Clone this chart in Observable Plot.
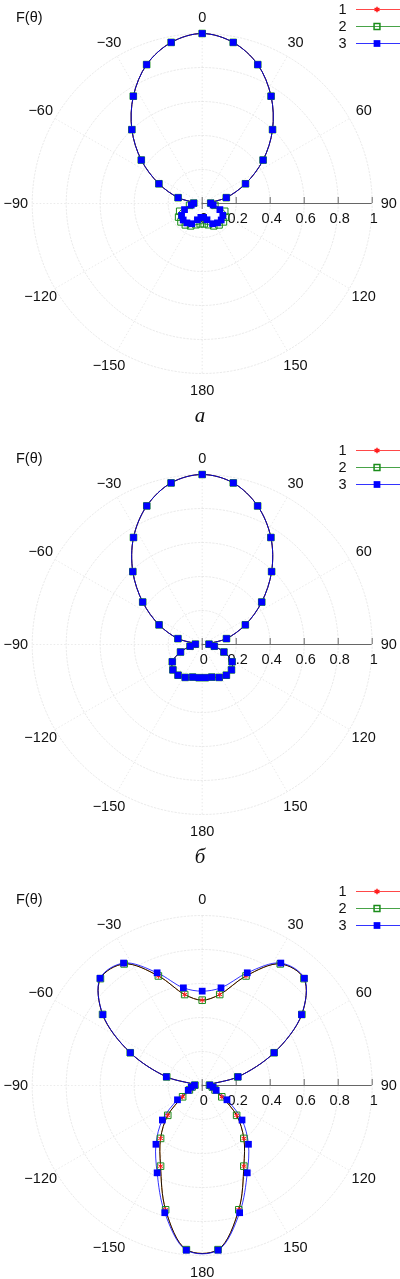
<!DOCTYPE html>
<html>
<head>
<meta charset="utf-8">
<script src="https://cdn.jsdelivr.net/npm/d3@7"></script>
<script src="https://cdn.jsdelivr.net/npm/@observablehq/plot@0.6"></script>
<style>
  html, body { margin: 0; padding: 0; background: #fff; overflow: hidden; }
  body { width: 400px; font-family: "Liberation Sans", Arial, sans-serif; color: #111; }
  .block { position: relative; width: 400px; height: 441px; }
  .ftheta { position: absolute; left: 16px; top: 8px; font-size: 14.5px; line-height: 18px; }
  .legend { position: absolute; left: 332px; top: 0px; }
  .cap { position: absolute; left: 0; top: 404px; width: 400px; text-align: center;
         font-family: "Liberation Serif", "DejaVu Serif", serif; font-style: italic; font-size: 21px; line-height: 22px; }
  .plot { position: absolute; left: 0; top: 0; }
</style>
</head>
<body>
<div id="root"></div>
<script>
// ---------- data ----------
// marker/sample angles (degrees) of the right half; the patterns are symmetric about 0–180
const angles = [0, 10.9, 21.8, 32.7, 43.6, 54.5, 65.5, 76.4, 87.3, 98.2, 109.1, 120, 130.9, 141.8, 152.7, 163.6, 174.5];

// panel а
const a_s1 = [1.0, 0.965, 0.88, 0.75, 0.60, 0.44, 0.28, 0.146, 0.05, 0.065, 0.11, 0.14, 0.148, 0.145, 0.134, 0.10, 0.082];
const a_s2 = [1.0, 0.965, 0.88, 0.75, 0.60, 0.44, 0.28, 0.146, 0.05, 0.075, 0.14, 0.16, 0.165, 0.16, 0.148, 0.13, 0.12];
const a_s3 = [1.0, 0.965, 0.88, 0.75, 0.60, 0.44, 0.28, 0.146, 0.05, 0.065, 0.11, 0.14, 0.148, 0.145, 0.134, 0.10, 0.082];
// panel б
const b_s1 = [1.0, 0.968, 0.878, 0.748, 0.592, 0.43, 0.279, 0.147, 0.04, 0.072, 0.135, 0.203, 0.228, 0.23, 0.218, 0.2, 0.196];
const b_s2 = [1.0, 0.968, 0.878, 0.748, 0.592, 0.43, 0.279, 0.147, 0.04, 0.072, 0.135, 0.203, 0.228, 0.23, 0.218, 0.2, 0.196];
const b_s3 = [1.0, 0.968, 0.878, 0.748, 0.592, 0.43, 0.279, 0.147, 0.04, 0.072, 0.135, 0.203, 0.228, 0.23, 0.218, 0.2, 0.196];
// panel в
const c_s1 = [0.502, 0.545, 0.694, 0.85, 0.868, 0.72, 0.465, 0.215, 0.043, 0.06, 0.08, 0.133, 0.268, 0.396, 0.534, 0.762, 0.97];
const c_s2 = [0.502, 0.545, 0.694, 0.85, 0.868, 0.72, 0.465, 0.215, 0.043, 0.06, 0.08, 0.133, 0.268, 0.396, 0.534, 0.762, 0.97];
const c_s3 = [0.555, 0.585, 0.714, 0.856, 0.871, 0.718, 0.465, 0.217, 0.045, 0.065, 0.087, 0.168, 0.31, 0.44, 0.578, 0.78, 0.973];

const seriesNames = ["1", "2", "3"];
const seriesColors = ["#ff1a1a", "#1a8c1a", "#0000ff"];
const panelCaptions = ["а", "б", ""];   // the caption of the third panel lies below the picture
const radialTicks = [0, 0.2, 0.4, 0.6, 0.8, 1];
const radialTickLabels = ["0", "0.2", "0.4", "0.6", "0.8", "1"];
const gridRadii = [0.2, 0.4, 0.6, 0.8, 1];
const spokeAngles = [0, 30, 60, 90, 120, 150, 180, 210, 240, 270, 300, 330];
const spokeLabels = ["0", "30", "60", "90", "120", "150", "180", "−150", "−120", "−90", "−60", "−30"];

const panels = [[a_s1, a_s2, a_s3], [b_s1, b_s2, b_s3], [c_s1, c_s2, c_s3]];

// ---------- layout constants ----------
const W = 400, H = 400, CX = 201.7, CY = 203, R = 170, TICK = 6, LABEL_R = 1.097;
const rad = d => d * Math.PI / 180;
const asterisk = d3.symbolAsterisk || "times";
const GRID = "#e4e4e4";

function fullPattern(half, name) {
  const pts = [];
  for (let k = 0; k < 33; k++) {
    const i = k <= 16 ? k : 33 - k;
    const th = k <= 16 ? angles[i] : 360 - angles[i];
    const r = half[i];
    pts.push({series: name, theta: th, r, x: r * Math.sin(rad(th)), y: r * Math.cos(rad(th))});
  }
  return pts;
}

function polar(seriesHalves) {
  const grid = gridRadii.flatMap(r => d3.range(0, 361, 2).map(a => ({r, x: r * Math.sin(rad(a)), y: r * Math.cos(rad(a))})));
  const data = seriesHalves.map((h, i) => fullPattern(h, seriesNames[i]));
  return Plot.plot({
    width: W, height: H, margin: 0,
    x: {domain: [-CX / R, (W - CX) / R], axis: null},
    y: {domain: [-(H - CY) / R, CY / R], axis: null},
    style: {fontFamily: "Liberation Sans, Arial, sans-serif", fontSize: "14.5px", color: "#111", background: "#fff", overflow: "visible"},
    marks: [
      Plot.line(grid, {x: "x", y: "y", z: "r", stroke: GRID, strokeWidth: 0.8, strokeDasharray: "1.5,2"}),
      Plot.link(spokeAngles, {x1: 0, y1: 0, x2: a => Math.sin(rad(a)), y2: a => Math.cos(rad(a)), stroke: GRID, strokeWidth: 0.8, strokeDasharray: "1.5,2"}),
      Plot.ruleY([0], {x1: 0, x2: 1, stroke: "#666", strokeWidth: 1}),
      Plot.ruleX(radialTicks, {x: d => d, y1: 0, y2: TICK / R, stroke: "#666", strokeWidth: 1}),
      Plot.ruleX([0], {x: d => d, y1: -TICK / R, y2: 0, stroke: "#666", strokeWidth: 1}),
      Plot.text(radialTicks, {x: d => d, y: 0, dx: 1.5, dy: 15, text: (d, i) => radialTickLabels[i], fill: "#111"}),
      Plot.text(spokeAngles, {x: a => LABEL_R * Math.sin(rad(a)), y: a => LABEL_R * Math.cos(rad(a)), text: (d, i) => spokeLabels[i], textAnchor: "middle", lineAnchor: "middle", fill: "#111"}),
      Plot.line(data[0], {x: "x", y: "y", stroke: seriesColors[0], strokeWidth: 1, curve: "catmull-rom-closed", mixBlendMode: "multiply"}),
      Plot.line(data[1], {x: "x", y: "y", stroke: seriesColors[1], strokeWidth: 1, curve: "catmull-rom-closed", mixBlendMode: "multiply"}),
      Plot.line(data[2], {x: "x", y: "y", stroke: seriesColors[2], strokeWidth: 1, strokeOpacity: 0.8, curve: "catmull-rom-closed"}),
      Plot.dot(data[1], {x: "x", y: "y", symbol: "square", r: 3.7, fill: "none", stroke: seriesColors[1], strokeWidth: 1}),
      Plot.dot(data[0], {x: "x", y: "y", symbol: asterisk, r: 2.6, fill: "none", stroke: seriesColors[0], strokeWidth: 1}),
      Plot.dot(data[2], {x: "x", y: "y", symbol: "square", r: 3.8, fill: "#0000ff", stroke: "none"})
    ]
  });
}

function legend() {
  const items = seriesNames.map((n, i) => ({n, i}));
  return Plot.plot({
    width: 68, height: 52, margin: 0,
    x: {domain: [0, 68], range: [0, 68], axis: null},
    y: {type: "point", domain: seriesNames, range: [8, 43.5], padding: 0, axis: null},
    style: {fontFamily: "Liberation Sans, Arial, sans-serif", fontSize: "14.5px", color: "#111", background: "transparent", overflow: "visible"},
    marks: [
      Plot.text(items, {x: 10, y: "n", text: "n", textAnchor: "middle", lineAnchor: "middle", fill: "#111"}),
      Plot.ruleY(items, {y: "n", x1: 24, x2: 68, stroke: d => seriesColors[d.i], strokeWidth: 1, strokeOpacity: 0.8}),
      Plot.dot(items.filter(d => d.i === 1), {x: 44.5, y: "n", symbol: "square", r: 3.3, fill: "none", stroke: seriesColors[1]}),
      Plot.dot(items.filter(d => d.i === 0), {x: 44.5, y: "n", symbol: asterisk, r: 2.6, fill: "none", stroke: seriesColors[0]}),
      Plot.dot(items.filter(d => d.i === 2), {x: 44.5, y: "n", symbol: "square", r: 3.8, fill: "#0000ff", stroke: "none"})
    ]
  });
}

const root = document.getElementById("root");
panels.forEach((p, idx) => {
  const block = document.createElement("div");
  block.className = "block";
  const plot = polar(p);
  plot.classList.add("plot");
  block.appendChild(plot);
  const ft = document.createElement("div");
  ft.className = "ftheta";
  ft.textContent = "F(θ)";
  block.appendChild(ft);
  const lg = document.createElement("div");
  lg.className = "legend";
  lg.appendChild(legend());
  block.appendChild(lg);
  if (panelCaptions[idx]) {
    const cap = document.createElement("div");
    cap.className = "cap";
    cap.textContent = panelCaptions[idx];
    block.appendChild(cap);
  }
  root.appendChild(block);
});
</script>
</body>
</html>
